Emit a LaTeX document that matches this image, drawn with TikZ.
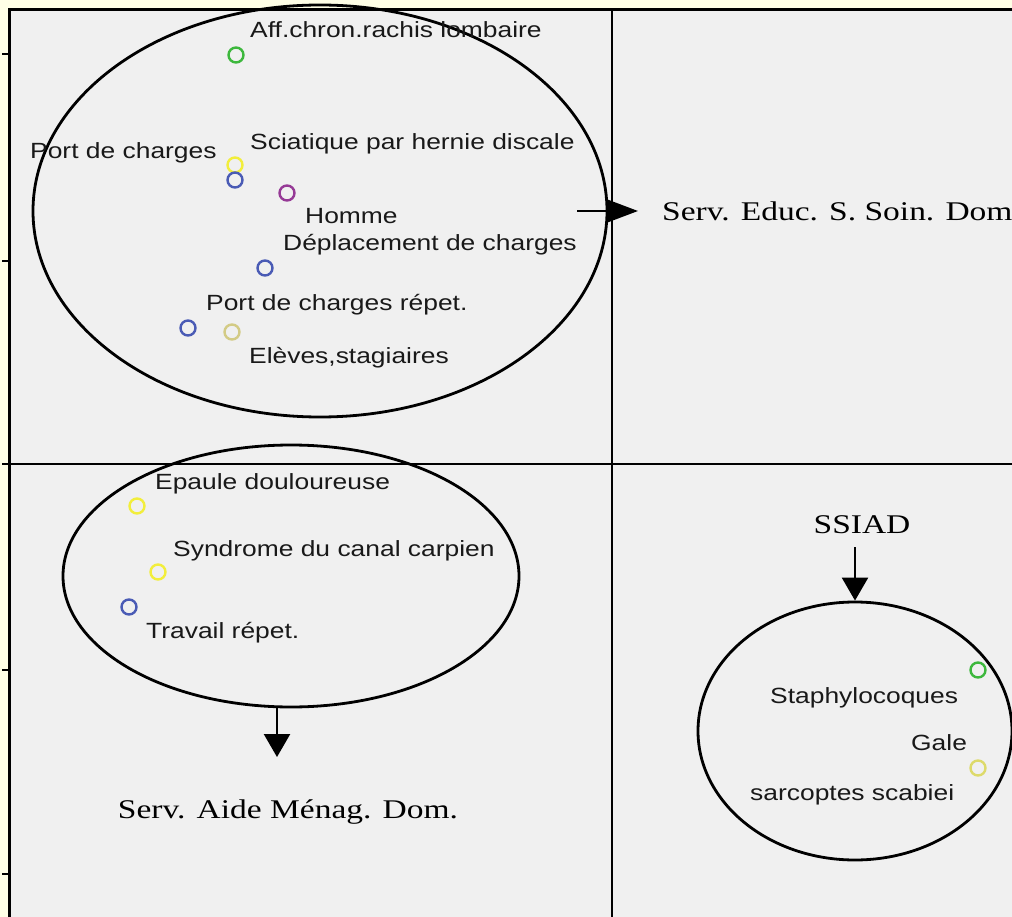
\documentclass[tikz,border=0pt]{standalone}
\usepackage{fontspec}
\usetikzlibrary{shapes.geometric,arrows.meta}
\newfontfamily\lblfont[FakeStretch=1.2]{Liberation Sans}
\newfontfamily\svcfont[FakeStretch=1.24]{Liberation Serif}
\definecolor{cream}{HTML}{FFFFE6}
\definecolor{panel}{HTML}{F0F0F0}
\definecolor{mkgreen}{HTML}{3DB83D}
\definecolor{mkyellow}{HTML}{F2EE3C}
\definecolor{mkblue}{HTML}{4A5BB5}
\definecolor{mkpurple}{HTML}{963A96}
\definecolor{mkkhaki}{HTML}{D3CB85}
\definecolor{mkgale}{HTML}{DDDA6A}
\begin{document}
\begin{tikzpicture}[
  x=1pt, y=-1pt,
  lbl/.style={anchor=base west, inner sep=0pt, text=black!90, font=\lblfont\fontsize{22}{26}\selectfont},
  svc/.style={anchor=base, inner sep=0pt, font=\svcfont\fontsize{27}{32}\selectfont},
  mk/.style={circle, draw=#1, line width=2.4pt, minimum size=15pt, inner sep=0pt},
  grp/.style={ellipse, draw, line width=2.8pt, inner sep=0pt},
  tip/.style={line width=2.4pt, -{Triangle[length=23pt, width=26pt]}},
]
\fill[cream] (0,0) rectangle (1012,917);
\useasboundingbox (0,0) rectangle (1012,917);

% Frame and quadrants
\fill[panel] (9,10) rectangle (1012,917);
\draw[line width=3pt] (1012,10) -- (9,10) -- (9,917);
\draw[line width=2.6pt] (612,10) -- (612,917);
\draw[line width=2.6pt] (2,464) -- (1012,464);
\foreach \ty in {54,261,670,874} {
  \draw[line width=2.6pt] (2,\ty) -- (9,\ty);
}

% Group ellipses
\node[grp, minimum width=574pt, minimum height=412pt] (grpA) at (320,211) {};
\node[grp, minimum width=456pt, minimum height=262pt] (grpB) at (291,576) {};
\node[grp, minimum width=314pt, minimum height=258pt] (grpC) at (855,731) {};

% Upper left group
\node[mk=mkgreen]  (mAff)   at (236,55)  {};
\node[mk=mkyellow] (mSci)   at (235,165) {};
\node[mk=mkblue]   (mPort)  at (235,180) {};
\node[mk=mkpurple] (mHom)   at (287,193) {};
\node[mk=mkblue]   (mDepl)  at (265,268) {};
\node[mk=mkblue]   (mRep)   at (188,328) {};
\node[mk=mkkhaki]  (mElev)  at (232,332) {};
\node[lbl] (tAff)  at (250,38)  {Aff.chron.rachis lombaire};
\node[lbl] (tSci)  at (250,150) {Sciatique par hernie discale};
\node[lbl] (tPort) at (30,159)  {Port de charges};
\node[lbl] (tHom)  at (305,224) {Homme};
\node[lbl] (tDepl) at (283,251) {Déplacement de charges};
\node[lbl] (tRep)  at (206,311) {Port de charges répet.};
\node[lbl] (tElev) at (249,363) {Elèves,stagiaires};

% Lower left group
\node[mk=mkyellow] (mEpa)  at (137,506) {};
\node[mk=mkyellow] (mSyn)  at (158,572) {};
\node[mk=mkblue]   (mTrav) at (129,607) {};
\node[lbl] (tEpa)  at (155,489) {Epaule douloureuse};
\node[lbl] (tSyn)  at (173,556) {Syndrome du canal carpien};
\node[lbl] (tTrav) at (146,638) {Travail répet.};

% Lower right group
\node[mk=mkgreen] (mStaph) at (978,670) {};
\node[mk=mkgale]  (mGale)  at (978,768) {};
\node[lbl] (tStaph) at (770,703) {Staphylocoques};
\node[lbl] (tGale)  at (911,750) {Gale};
\node[lbl] (tSarc)  at (750,800) {sarcoptes scabiei};

% Services
\node[svc, anchor=base west] (educ) at (662,221) {Serv. Educ. S. Soin. Dom};
\node[svc] (aide)  at (288,818) {Serv. Aide Ménag. Dom.};
\node[svc] (ssiad) at (862,533) {SSIAD};

% Arrows
\draw[tip, -{Triangle[length=30pt, width=22pt]}] ([xshift=-31pt]grpA.east) -- ([xshift=-24pt]educ.west |- grpA.east);
\draw[tip] ([xshift=-14pt]grpB.south) -- ([xshift=-14pt]grpB.south |- aide.north) [shorten >=42pt];
\draw[tip, shorten <=14pt] (ssiad.south -| grpC.north) -- (grpC.north);

\end{tikzpicture}
\end{document}
